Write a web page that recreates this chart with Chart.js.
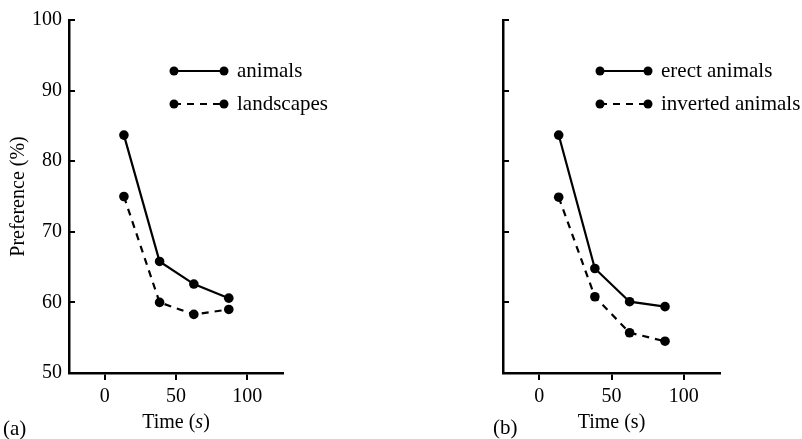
<!DOCTYPE html>
<html>
<head>
<meta charset="utf-8">
<script src="https://cdn.jsdelivr.net/npm/chart.js@4.4.1/dist/chart.umd.min.js"></script>
<style>
  html, body { margin: 0; padding: 0; background: #fff; }
  #wrap { position: relative; width: 802px; height: 439px; }
  canvas { position: absolute; top: 0; }
</style>
</head>
<body>
<div id="wrap">
  <canvas id="panelA" width="401" height="439" style="left:0"></canvas>
  <canvas id="panelB" width="401" height="439" style="left:401px"></canvas>
</div>
<script>
// Data
const times = [13.5, 38.5, 62.5, 87];
const animals = [83.7, 65.8, 62.6, 60.6];
const landscapes = [75.0, 60.0, 58.3, 59.0];
const erectAnimals = [83.7, 64.8, 60.1, 59.4];
const invertedAnimals = [74.9, 60.8, 55.7, 54.5];
const xTicks = [0, 50, 100];
const yTicks = [50, 60, 70, 80, 90, 100];

const INK = "#000";
const FONT = "'Liberation Serif', 'DejaVu Serif', serif";

Chart.defaults.font.family = FONT;
Chart.defaults.color = INK;

const toPoints = (ys) => ys.map((v, i) => ({ x: times[i], y: v }));

function serie(label, values, dashed) {
  return {
    label,
    data: toPoints(values),
    borderColor: INK,
    backgroundColor: INK,
    borderWidth: 2.2,
    borderDash: dashed ? [7, 6] : [],
    pointRadius: 4.8,
    pointBackgroundColor: INK,
    pointBorderColor: INK,
    pointBorderWidth: 0,
    tension: 0
  };
}

// ticks para dentro no eixo y, legenda, título do eixo x e rótulo do painel
const extras = {
  id: "extras",
  afterDraw(chart, args, o) {
    const ctx = chart.ctx;
    const xs = chart.scales.x;
    const ys = chart.scales.y;
    ctx.save();
    ctx.strokeStyle = INK;
    ctx.fillStyle = INK;

    ctx.lineWidth = 2;
    yTicks.slice(1).forEach(v => {
      const py = Math.round(ys.getPixelForValue(v));
      ctx.beginPath();
      ctx.moveTo(xs.left, py);
      ctx.lineTo(xs.left + 6, py);
      ctx.stroke();
    });

    // legenda
    ctx.font = "21px " + FONT;
    ctx.textBaseline = "middle";
    ctx.textAlign = "left";
    chart.data.datasets.forEach((ds, i) => {
      const ly = o.legendY + i * o.legendGap;
      ctx.lineWidth = ds.borderWidth;
      ctx.setLineDash(ds.borderDash);
      ctx.beginPath();
      ctx.moveTo(o.legendX, ly);
      ctx.lineTo(o.legendX + o.legendLen, ly);
      ctx.stroke();
      ctx.setLineDash([]);
      [o.legendX, o.legendX + o.legendLen].forEach(px => {
        ctx.beginPath();
        ctx.arc(px, ly, 4.5, 0, Math.PI * 2);
        ctx.fill();
      });
      ctx.fillText(ds.label, o.legendX + o.legendLen + 13, ly);
    });

    // título do eixo x (com o "s" em itálico no painel a)
    const parts = [["Time (", false], ["s", o.italicS], [")", false]];
    const fontOf = (it) => (it ? "italic " : "") + "20px " + FONT;
    let w = 0;
    parts.forEach(([t, it]) => { ctx.font = fontOf(it); w += ctx.measureText(t).width; });
    let cx = (chart.chartArea.left + chart.chartArea.right) / 2 - w / 2;
    parts.forEach(([t, it]) => {
      ctx.font = fontOf(it);
      ctx.fillText(t, cx, 423);
      cx += ctx.measureText(t).width;
    });

    // rótulo do painel
    ctx.font = "21px " + FONT;
    ctx.fillText(o.tag, o.tagX, o.tagY);
    ctx.restore();
  }
};

function makeChart(id, datasets, cfg) {
  return new Chart(document.getElementById(id), {
    type: "line",
    data: { datasets },
    plugins: [extras],
    options: {
      responsive: false,
      animation: false,
      layout: { padding: { left: 0, top: 20, right: cfg.right, bottom: 0 } },
      plugins: {
        legend: { display: false },
        tooltip: { enabled: false },
        extras: cfg.extras
      },
      scales: {
        x: {
          type: "linear",
          min: -25,
          max: 125,
          afterBuildTicks: (s) => { s.ticks = xTicks.map(v => ({ value: v })); },
          afterFit: (s) => { s.height = 66; },
          grid: { drawOnChartArea: false, drawTicks: true, tickLength: 7, color: INK, lineWidth: 2 },
          border: { color: INK, width: 2.5 },
          ticks: { font: { size: 20 }, color: INK, padding: 5, maxRotation: 0 }
        },
        y: {
          min: 50,
          max: 100,
          afterBuildTicks: (s) => { s.ticks = yTicks.map(v => ({ value: v })); },
          afterFit: (s) => { s.width = cfg.yWidth; },
          grid: { drawOnChartArea: false, drawTicks: false },
          border: { color: INK, width: 2.5 },
          ticks: { display: cfg.yLabels, font: { size: 20 }, color: INK, padding: 7 },
          title: {
            display: cfg.yLabels,
            text: "Preference (%)",
            font: { size: 20 },
            color: INK,
            padding: { top: 7, bottom: 0 }
          }
        }
      }
    }
  });
}

makeChart("panelA",
  [serie("animals", animals, false), serie("landscapes", landscapes, true)],
  {
    right: 118, yWidth: 69, yLabels: true,
    extras: { legendX: 174, legendY: 71, legendGap: 33, legendLen: 50, italicS: true, tag: "(a)", tagX: 3, tagY: 429 }
  });

makeChart("panelB",
  [serie("erect animals", erectAnimals, false), serie("inverted animals", invertedAnimals, true)],
  {
    right: 82, yWidth: 102, yLabels: false,
    extras: { legendX: 199, legendY: 71, legendGap: 33, legendLen: 48, italicS: false, tag: "(b)", tagX: 92, tagY: 428 }
  });
</script>
</body>
</html>
